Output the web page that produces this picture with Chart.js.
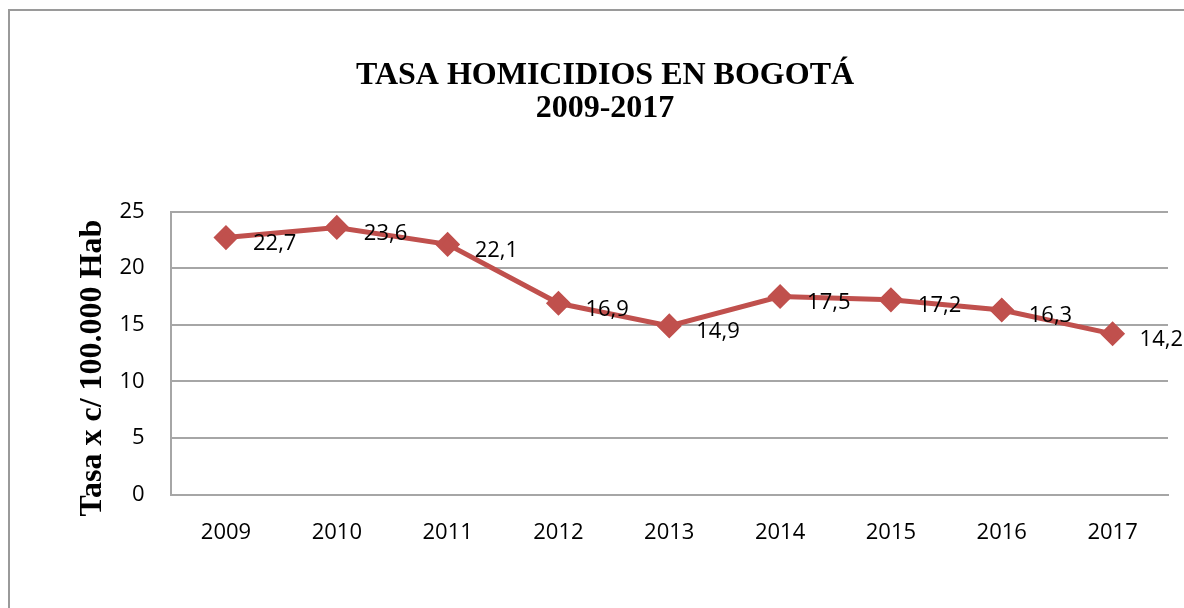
<!DOCTYPE html>
<html>
<head>
<meta charset="utf-8">
<script src="https://cdn.jsdelivr.net/npm/chart.js@4/dist/chart.umd.min.js"></script>
<style>
  html, body { margin: 0; padding: 0; background: #fff; }
  #wrap { width: 1184px; height: 608px; }
</style>
</head>
<body>
<div id="wrap"><canvas id="chart"></canvas></div>
<script>
const years = ["2009", "2010", "2011", "2012", "2013", "2014", "2015", "2016", "2017"];
const rates = [22.7, 23.6, 22.1, 16.9, 14.9, 17.5, 17.2, 16.3, 14.2];
const titleLines = ["TASA HOMICIDIOS EN BOGOTÁ", "2009-2017"];
const yTitle = "Tasa x c/ 100.000 Hab";

const red = "#C0504D";
const grey = "#A6A6A6";
const sans = "'Open Sans', 'Liberation Sans', sans-serif";
const serif = "'Liberation Serif', 'DejaVu Serif', serif";

// outer frame like the office chart area
const frame = {
  id: "frame",
  beforeDraw(chart) {
    const c = chart.ctx;
    c.save();
    c.strokeStyle = "#9a9a9a";
    c.lineWidth = 2;
    c.strokeRect(9, 10, 1300, 800);
    c.restore();
  }
};

// y axis title sits a bit below the plot centre in the original
const yTitleDraw = {
  id: "yTitleDraw",
  afterDraw(chart) {
    const c = chart.ctx;
    const area = chart.chartArea;
    c.save();
    c.translate(93, (area.top + area.bottom) / 2 + 15);
    c.rotate(-Math.PI / 2);
    c.font = "bold 32px " + serif;
    c.fillStyle = "#000";
    c.textAlign = "center";
    c.textBaseline = "middle";
    c.fillText(yTitle, 0, 0);
    c.restore();
  }
};

// value labels to the right of each point, comma decimals
const valueLabels = {
  id: "valueLabels",
  afterDatasetsDraw(chart) {
    const c = chart.ctx;
    const meta = chart.getDatasetMeta(0);
    c.save();
    c.font = "22px " + sans;
    c.fillStyle = "#000";
    c.textAlign = "left";
    c.textBaseline = "middle";
    meta.data.forEach((pt, i) => {
      c.fillText(String(rates[i]).replace(".", ","), pt.x + 27, pt.y + 6);
    });
    c.restore();
  }
};

new Chart(document.getElementById("chart"), {
  type: "line",
  data: {
    labels: years,
    datasets: [{
      data: rates,
      borderColor: red,
      backgroundColor: red,
      borderWidth: 5,
      pointStyle: "rectRot",
      pointRadius: 9,
      pointHoverRadius: 9,
      tension: 0
    }]
  },
  options: {
    responsive: true,
    maintainAspectRatio: false,
    animation: false,
    layout: { padding: { left: 42, right: 16, top: 59, bottom: 37 } },
    plugins: {
      legend: { display: false },
      tooltip: { enabled: false },
      title: {
        display: true,
        text: titleLines,
        color: "#000",
        font: { family: serif, size: 32, weight: "bold", lineHeight: 1.04 },
        padding: { top: 0, bottom: 86 }
      }
    },
    scales: {
      x: {
        offset: true,
        grid: { display: false, drawTicks: false },
        border: { color: grey, width: 2 },
        ticks: { color: "#000", font: { family: sans, size: 22 }, padding: 25 }
      },
      y: {
        min: 0,
        max: 25,
        ticks: { stepSize: 5, color: "#000", font: { family: sans, size: 22 }, padding: 26 },
        grid: { color: grey, lineWidth: 2, drawTicks: false },
        border: { color: grey, width: 2 },
        title: {
          // reserves the room; the visible text is drawn by yTitleDraw
          display: true,
          text: yTitle,
          color: "rgba(0,0,0,0)",
          font: { family: serif, size: 32, weight: "bold" },
          padding: { top: 32, bottom: -19 }
        }
      }
    }
  },
  plugins: [frame, yTitleDraw, valueLabels]
});
</script>
</body>
</html>
